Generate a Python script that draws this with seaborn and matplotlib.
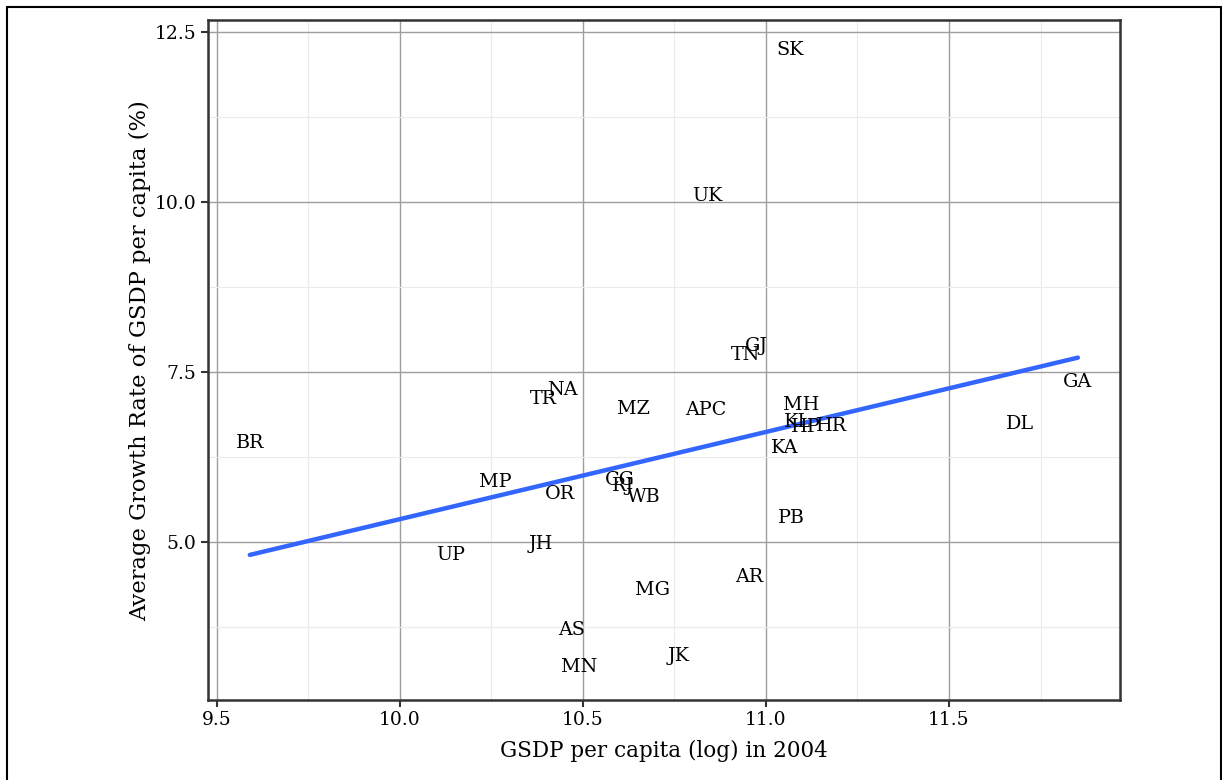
import matplotlib
matplotlib.use("Agg")
import matplotlib.pyplot as plt
import seaborn as sns
import pandas as pd
from matplotlib.lines import Line2D
from matplotlib.ticker import MultipleLocator

# state codes, log GSDP per capita 2004, average growth rate (%)
states = ["SK", "UK", "GJ", "TN", "NA", "TR", "MZ", "APC", "MH", "KL",
          "HP", "HR", "KA", "GA", "DL", "BR", "MP", "OR", "CG", "RJ",
          "WB", "PB", "UP", "JH", "AR", "MG", "AS", "JK", "MN"]
gsdp_log = [11.066, 10.839, 10.975, 10.945, 10.445, 10.393, 10.639, 10.836, 11.096, 11.085,
            11.109, 11.178, 11.052, 11.852, 11.694, 9.590, 10.260, 10.437, 10.601, 10.609,
            10.667, 11.068, 10.139, 10.385, 10.954, 10.689, 10.470, 10.762, 10.489]
growth = [12.23, 10.09, 7.88, 7.75, 7.24, 7.10, 6.96, 6.94, 7.02, 6.77,
          6.69, 6.70, 6.38, 7.35, 6.74, 6.46, 5.88, 5.70, 5.92, 5.82,
          5.66, 5.36, 4.81, 4.97, 4.49, 4.30, 3.71, 3.33, 3.16]

df = pd.DataFrame({"state": states, "gsdp": gsdp_log, "growth": growth})

sns.set_theme(style="whitegrid")
plt.rcParams["font.family"] = ["DejaVu Serif"]

fig = plt.figure(figsize=(12.22, 7.8), dpi=100)
ax = fig.add_axes([0.170, 0.1026, 0.7465, 0.8714])

sns.regplot(data=df, x="gsdp", y="growth", scatter=False, ci=None,
            color="#3366FF", line_kws={"linewidth": 3.2}, ax=ax)

for s, x, y in zip(df["state"], df["gsdp"], df["growth"]):
    ax.text(x, y, s, ha="center", va="center", fontsize=13.8, color="black")

ax.set_xlim(9.475, 11.967)
ax.set_ylim(2.68, 12.67)
ax.xaxis.set_major_locator(MultipleLocator(0.5))
ax.xaxis.set_minor_locator(MultipleLocator(0.25))
ax.yaxis.set_major_locator(MultipleLocator(2.5))
ax.yaxis.set_minor_locator(MultipleLocator(1.25))
ax.xaxis.set_major_formatter(matplotlib.ticker.FormatStrFormatter("%.1f"))
ax.yaxis.set_major_formatter(matplotlib.ticker.FormatStrFormatter("%.1f"))

ax.grid(which="major", color="#9E9E9E", linewidth=1.0)
ax.grid(which="minor", color="#EBEBEB", linewidth=0.8)
ax.set_axisbelow(True)
for sp in ax.spines.values():
    sp.set_visible(True)
    sp.set_color("#333333")
    sp.set_linewidth(1.8)

ax.tick_params(which="major", direction="out", length=5, width=1.5, color="#333333",
               labelsize=13.5, labelcolor="black", bottom=True, left=True, pad=3)
ax.tick_params(which="minor", length=0)

ax.set_xlabel("GSDP per capita (log) in 2004", fontsize=15.5, labelpad=8, color="black")
ax.set_ylabel("Average Growth Rate of GSDP per capita (%)", fontsize=16.3, labelpad=3,
              color="black")

# outer frame around the figure
fw, fh = 1222.0, 780.0
for xs, ys in [((7.5 / fw, 7.5 / fw), (1 - 6.5 / fh, -0.1)),
               ((7.5 / fw, 1221 / fw), (1 - 6.5 / fh, 1 - 6.5 / fh)),
               ((1221 / fw, 1221 / fw), (1 - 6.5 / fh, -0.1))]:
    fig.add_artist(Line2D(xs, ys, transform=fig.transFigure, color="black", linewidth=1.5))

fig.savefig("out.png", dpi=100)
